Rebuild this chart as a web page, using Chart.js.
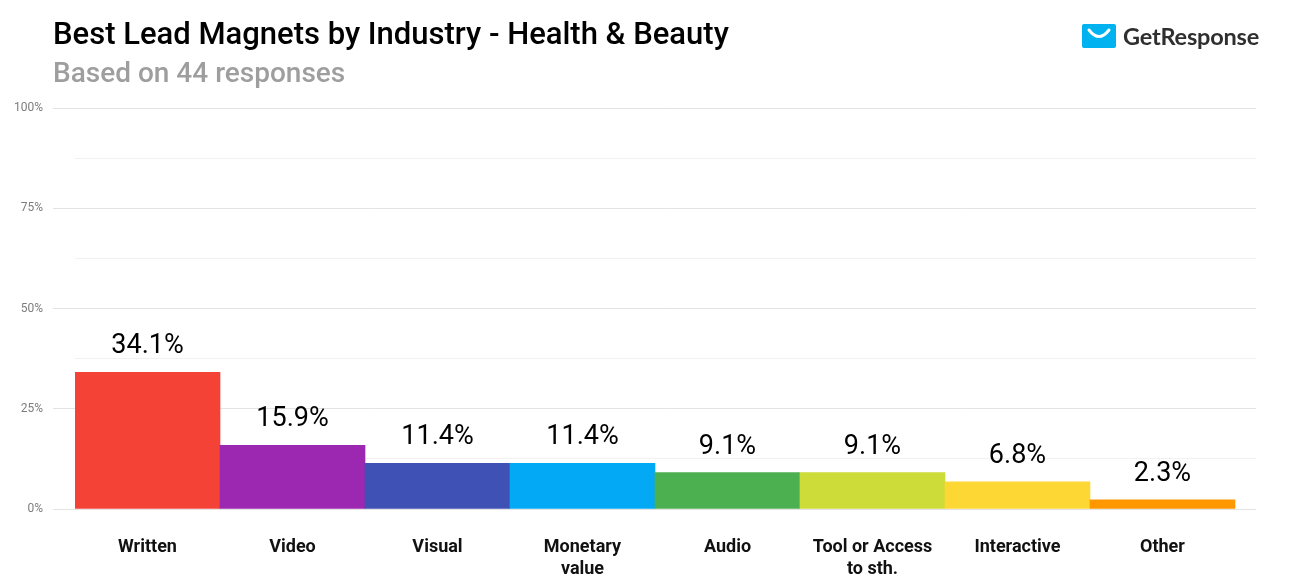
<!DOCTYPE html>
<html>
<head>
<meta charset="utf-8">
<script src="https://cdn.jsdelivr.net/npm/chart.js@4.4.1/dist/chart.umd.min.js"></script>
<style>
  body { margin: 0; background: #fff; font-family: Roboto, sans-serif; }
  #wrap { position: relative; width: 1300px; height: 581px; }
  #chart { position: absolute; left: 0; top: 0; }
  .title { position: absolute; left: 53px; top: 18px; font-size: 31px; line-height: 31px; font-weight: 500; color: #000; white-space: nowrap; }
  .subtitle { position: absolute; left: 53px; top: 59px; font-size: 28px; line-height: 28px; font-weight: 500; color: #9e9e9e; white-space: nowrap; }
  .logo { position: absolute; left: 1082px; top: 22px; display: flex; align-items: center; }
  .logo span { font-family: Lato, sans-serif; font-weight: 700; font-size: 23.5px; color: #2f2f2f; margin-left: 7px; letter-spacing: -0.2px; }
</style>
</head>
<body>
<div id="wrap">
  <canvas id="chart" width="1300" height="581"></canvas>
  <div class="title">Best Lead Magnets by Industry - Health &amp; Beauty</div>
  <div class="subtitle">Based on 44 responses</div>
  <div class="logo">
    <svg width="34" height="24" viewBox="0 0 34 24">
      <rect x="0" y="0" width="34" height="24" rx="2" fill="#00b2ef"/>
      <path d="M7 6 Q17 19 27 6" stroke="#fff" stroke-width="3" fill="none" stroke-linecap="round"/>
    </svg>
    <span>GetResponse</span>
  </div>
</div>
<script>
const categories = ["Written", "Video", "Visual", ["Monetary", "value"], "Audio", ["Tool or Access", "to sth."], "Interactive", "Other"];
const shares = [34.1, 15.9, 11.4, 11.4, 9.1, 9.1, 6.8, 2.3];
const barColors = ["#f44336", "#9c27b0", "#3f51b5", "#03a9f4", "#4caf50", "#cddc39", "#fdd835", "#ff9800"];
const yTicks = [0, 25, 50, 75, 100];

Chart.defaults.font.family = "Roboto";

const valueLabels = {
  id: "valueLabels",
  afterDatasetsDraw(chart) {
    const ctx = chart.ctx;
    const meta = chart.getDatasetMeta(0);
    ctx.save();
    ctx.font = "400 27px Roboto";
    ctx.fillStyle = "#000";
    ctx.textAlign = "center";
    ctx.textBaseline = "alphabetic";
    meta.data.forEach((bar, i) => {
      ctx.fillText(shares[i].toFixed(1) + "%", bar.x, bar.y - 19);
    });
    ctx.restore();
  }
};

new Chart(document.getElementById("chart"), {
  type: "bar",
  data: {
    datasets: [{
      data: shares.map((v, i) => ({ x: i, y: v })),
      backgroundColor: barColors,
      borderWidth: 0,
      categoryPercentage: 1,
      barPercentage: 1,
    }],
  },
  options: {
    responsive: false,
    animation: false,
    layout: { padding: { top: 108, right: 44, left: 0, bottom: 0 } },
    plugins: { legend: { display: false }, tooltip: { enabled: false } },
    scales: {
      x: {
        type: "linear",
        offset: false,
        min: -0.5,
        max: 7.645,
        grid: { display: false },
        border: { display: false },
        afterFit(scale) { scale.height = 72; },
        ticks: {
          stepSize: 1,
          includeBounds: false,
          autoSkip: false,
          maxRotation: 0,
          padding: 20,
          color: "#111",
          font: { size: 18, weight: "bold", lineHeight: 1.2 },
          callback: (v) => (Number.isInteger(v) && v >= 0 && v < categories.length ? categories[v] : ""),
        },
      },
      y: {
        min: 0,
        max: 100,
        border: { display: false },
        afterFit(scale) { scale.width = 75; },
        grid: {
          color: (c) => (yTicks.includes(c.tick.value) ? "#e3e3e3" : "#f1f1f1"),
          tickColor: (c) => (yTicks.includes(c.tick.value) ? "#e3e3e3" : "rgba(0,0,0,0)"),
          tickLength: 22,
        },
        ticks: {
          stepSize: 12.5,
          padding: 10,
          color: "#7d7d7d",
          font: { size: 12 },
          callback: (v) => (yTicks.includes(v) ? v + "%" : ""),
        },
      },
    },
  },
  plugins: [valueLabels],
});
</script>
</body>
</html>
